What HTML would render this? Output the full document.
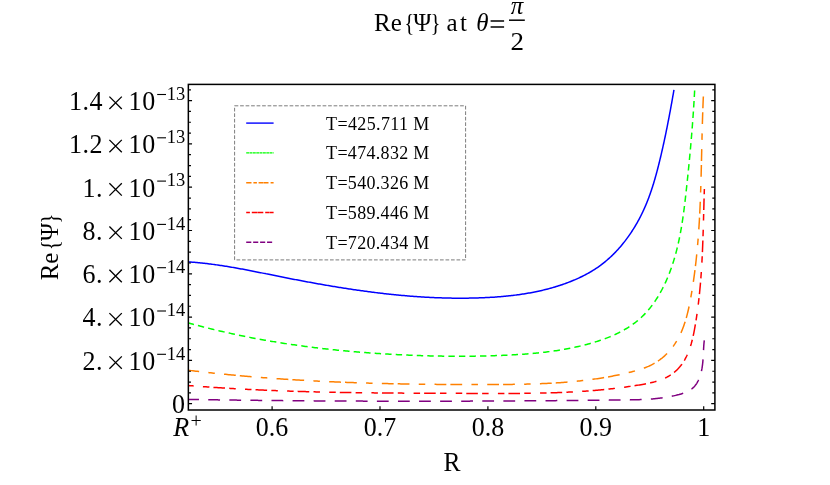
<!DOCTYPE html>
<html><head><meta charset="utf-8"><title>plot</title>
<style>html,body{margin:0;padding:0;background:#fff;}svg{display:block;will-change:transform;}text{font-family:"Liberation Serif",serif;fill:#000;}</style>
</head><body>
<svg width="830" height="485" viewBox="0 0 830 485">
<rect x="0" y="0" width="830" height="485" fill="#ffffff"/>
<clipPath id="c"><rect x="188.35" y="84.4" width="526.55" height="325.6"/></clipPath>
<g clip-path="url(#c)" fill="none" stroke-width="1.5" stroke-linecap="butt" stroke-linejoin="round">
<path d="M188.39,261.91 L189.62,261.99 L190.86,262.08 L192.10,262.17 L193.33,262.26 L194.56,262.36 L195.80,262.47 L197.03,262.58 L198.26,262.69 L199.49,262.81 L200.72,262.93 L201.95,263.06 L203.18,263.19 L204.41,263.32 L205.64,263.46 L206.86,263.60 L208.09,263.75 L209.32,263.90 L210.54,264.05 L211.76,264.21 L212.99,264.37 L214.21,264.54 L215.43,264.71 L216.65,264.88 L217.87,265.05 L219.10,265.23 L220.31,265.41 L221.53,265.59 L222.75,265.78 L223.97,265.97 L225.19,266.16 L226.41,266.36 L227.62,266.56 L228.84,266.76 L230.06,266.96 L231.27,267.17 L232.49,267.37 L233.70,267.58 L234.92,267.80 L236.13,268.01 L237.35,268.23 L238.56,268.45 L239.77,268.67 L240.98,268.89 L242.20,269.11 L243.41,269.34 L244.62,269.57 L245.83,269.80 L247.05,270.03 L248.26,270.26 L249.47,270.49 L250.68,270.73 L251.89,270.96 L253.10,271.20 L254.31,271.44 L255.52,271.68 L256.73,271.92 L257.94,272.16 L259.15,272.40 L260.36,272.64 L261.57,272.88 L262.78,273.12 L263.99,273.37 L265.20,273.61 L266.41,273.86 L267.62,274.10 L268.83,274.34 L270.05,274.59 L271.26,274.83 L272.47,275.08 L273.68,275.32 L274.89,275.56 L276.10,275.81 L277.31,276.05 L278.52,276.29 L279.73,276.53 L280.94,276.78 L282.15,277.02 L283.37,277.26 L284.58,277.50 L285.79,277.74 L287.00,277.97 L288.21,278.21 L289.43,278.45 L290.64,278.68 L291.85,278.92 L293.06,279.15 L294.28,279.39 L295.49,279.62 L296.70,279.85 L297.92,280.09 L299.13,280.32 L300.35,280.55 L301.56,280.78 L302.78,281.00 L303.99,281.23 L305.20,281.46 L306.42,281.68 L307.63,281.91 L308.85,282.13 L310.07,282.35 L311.28,282.58 L312.50,282.80 L313.71,283.02 L314.93,283.24 L316.15,283.46 L317.36,283.67 L318.58,283.89 L319.80,284.10 L321.01,284.32 L322.23,284.53 L323.45,284.74 L324.66,284.95 L325.88,285.16 L327.10,285.37 L328.32,285.58 L329.54,285.78 L330.75,285.99 L331.97,286.19 L333.19,286.40 L334.41,286.60 L335.63,286.80 L336.85,287.00 L338.07,287.19 L339.29,287.39 L340.51,287.59 L341.73,287.78 L342.95,287.97 L344.17,288.16 L345.39,288.35 L346.61,288.54 L347.83,288.73 L349.05,288.91 L350.27,289.10 L351.49,289.28 L352.71,289.46 L353.93,289.64 L355.16,289.82 L356.38,290.00 L357.60,290.17 L358.82,290.35 L360.05,290.52 L361.27,290.69 L362.49,290.86 L363.71,291.03 L364.94,291.20 L366.16,291.36 L367.38,291.52 L368.61,291.69 L369.83,291.85 L371.05,292.00 L372.28,292.16 L373.50,292.32 L374.73,292.47 L375.95,292.62 L377.18,292.77 L378.40,292.92 L379.63,293.07 L380.85,293.21 L382.08,293.35 L383.30,293.50 L384.53,293.64 L385.75,293.77 L386.98,293.91 L388.20,294.04 L389.43,294.18 L390.66,294.31 L391.88,294.43 L393.11,294.56 L394.34,294.68 L395.56,294.81 L396.79,294.93 L398.02,295.05 L399.25,295.16 L400.47,295.28 L401.70,295.39 L402.93,295.50 L404.16,295.61 L405.39,295.72 L406.62,295.82 L407.84,295.93 L409.07,296.03 L410.30,296.13 L411.53,296.22 L412.76,296.32 L413.99,296.41 L415.22,296.50 L416.45,296.59 L417.68,296.67 L418.91,296.76 L420.14,296.84 L421.37,296.92 L422.60,296.99 L423.83,297.07 L425.06,297.14 L426.29,297.21 L427.53,297.28 L428.76,297.34 L429.99,297.41 L431.22,297.47 L432.45,297.53 L433.68,297.58 L434.92,297.64 L436.15,297.69 L437.38,297.74 L438.61,297.78 L439.85,297.83 L441.08,297.87 L442.31,297.91 L443.55,297.94 L444.78,297.98 L446.01,298.01 L447.25,298.04 L448.48,298.07 L449.72,298.09 L450.95,298.11 L452.18,298.13 L453.42,298.15 L454.65,298.16 L455.89,298.17 L457.12,298.18 L458.36,298.19 L459.59,298.19 L460.83,298.19 L462.07,298.19 L463.30,298.18 L464.54,298.18 L465.77,298.17 L467.01,298.15 L468.25,298.14 L469.48,298.12 L470.72,298.10 L471.96,298.07 L473.19,298.05 L474.43,298.02 L475.67,297.98 L476.91,297.95 L478.14,297.91 L479.38,297.87 L480.62,297.83 L481.86,297.78 L483.10,297.73 L484.33,297.68 L485.57,297.62 L486.81,297.56 L488.05,297.50 L489.29,297.43 L490.52,297.36 L491.76,297.29 L493.00,297.21 L494.24,297.13 L495.47,297.04 L496.71,296.96 L497.95,296.86 L499.18,296.77 L500.42,296.67 L501.65,296.56 L502.89,296.46 L504.12,296.34 L505.35,296.23 L506.59,296.11 L507.82,295.98 L509.05,295.85 L510.28,295.72 L511.51,295.58 L512.74,295.43 L513.97,295.29 L515.19,295.13 L516.42,294.97 L517.65,294.81 L518.87,294.64 L520.09,294.47 L521.32,294.29 L522.54,294.11 L523.76,293.92 L524.98,293.72 L526.20,293.52 L527.41,293.32 L528.63,293.11 L529.84,292.89 L531.06,292.67 L532.27,292.44 L533.48,292.21 L534.69,291.97 L535.89,291.72 L537.10,291.47 L538.30,291.21 L539.50,290.95 L540.71,290.68 L541.91,290.40 L543.10,290.12 L544.30,289.83 L545.49,289.53 L546.68,289.23 L547.88,288.92 L549.06,288.61 L550.25,288.28 L551.43,287.95 L552.62,287.62 L553.80,287.28 L554.98,286.92 L556.15,286.57 L557.33,286.20 L558.50,285.83 L559.67,285.45 L560.84,285.06 L562.00,284.67 L563.17,284.27 L564.33,283.86 L565.49,283.44 L566.64,283.02 L567.80,282.58 L568.95,282.14 L570.10,281.70 L571.24,281.24 L572.39,280.77 L573.53,280.30 L574.66,279.82 L575.80,279.33 L576.93,278.83 L578.06,278.33 L579.18,277.81 L580.30,277.29 L581.42,276.75 L582.53,276.21 L583.63,275.65 L584.73,275.09 L585.83,274.52 L586.92,273.94 L588.00,273.34 L589.08,272.74 L590.15,272.13 L591.22,271.50 L592.27,270.87 L593.32,270.22 L594.37,269.56 L595.40,268.89 L596.43,268.21 L597.45,267.52 L598.46,266.82 L599.46,266.10 L600.46,265.38 L601.44,264.64 L602.42,263.89 L603.39,263.13 L604.35,262.36 L605.30,261.58 L606.25,260.79 L607.18,259.99 L608.11,259.18 L609.03,258.36 L609.94,257.53 L610.85,256.69 L611.74,255.84 L612.63,254.99 L613.51,254.12 L614.38,253.24 L615.24,252.36 L616.09,251.47 L616.94,250.56 L617.77,249.65 L618.60,248.74 L619.42,247.81 L620.24,246.88 L621.04,245.94 L621.84,244.99 L622.62,244.03 L623.40,243.07 L624.17,242.10 L624.94,241.13 L625.69,240.14 L626.44,239.15 L627.18,238.16 L627.91,237.16 L628.63,236.15 L629.34,235.13 L630.05,234.11 L630.74,233.09 L631.43,232.06 L632.11,231.02 L632.78,229.97 L633.45,228.93 L634.10,227.87 L634.75,226.81 L635.39,225.75 L636.02,224.68 L636.64,223.61 L637.26,222.53 L637.86,221.45 L638.46,220.36 L639.05,219.27 L639.63,218.17 L640.20,217.08 L640.76,215.97 L641.32,214.87 L641.87,213.76 L642.41,212.64 L642.94,211.52 L643.46,210.40 L643.97,209.28 L644.48,208.15 L644.98,207.02 L645.47,205.89 L645.95,204.76 L646.42,203.62 L646.89,202.48 L647.34,201.34 L647.79,200.19 L648.24,199.04 L648.67,197.89 L649.10,196.74 L649.53,195.58 L649.94,194.42 L650.35,193.26 L650.76,192.10 L651.15,190.94 L651.54,189.77 L651.93,188.60 L652.31,187.43 L652.68,186.26 L653.05,185.09 L653.42,183.91 L653.78,182.73 L654.13,181.55 L654.48,180.37 L654.82,179.19 L655.16,178.01 L655.50,176.82 L655.83,175.64 L656.16,174.45 L656.48,173.26 L656.80,172.07 L657.12,170.88 L657.43,169.69 L657.74,168.49 L658.05,167.30 L658.36,166.10 L658.66,164.91 L658.96,163.71 L659.25,162.51 L659.55,161.31 L659.84,160.11 L660.13,158.91 L660.42,157.71 L660.70,156.51 L660.99,155.31 L661.27,154.11 L661.55,152.90 L661.83,151.70 L662.10,150.50 L662.38,149.29 L662.65,148.09 L662.92,146.88 L663.19,145.68 L663.45,144.47 L663.72,143.26 L663.98,142.06 L664.24,140.85 L664.50,139.64 L664.76,138.43 L665.02,137.22 L665.27,136.01 L665.52,134.80 L665.78,133.59 L666.03,132.38 L666.27,131.17 L666.52,129.96 L666.76,128.75 L667.01,127.54 L667.25,126.33 L667.49,125.11 L667.73,123.90 L667.97,122.69 L668.20,121.48 L668.44,120.26 L668.67,119.05 L668.91,117.84 L669.14,116.62 L669.37,115.41 L669.60,114.20 L669.82,112.98 L670.05,111.77 L670.28,110.56 L670.50,109.34 L670.72,108.13 L670.95,106.91 L671.17,105.70 L671.39,104.49 L671.61,103.27 L671.82,102.06 L672.04,100.84 L672.26,99.63 L672.47,98.42 L672.69,97.20 L672.90,95.99 L673.11,94.77 L673.33,93.56 L673.54,92.35 L673.75,91.13 L673.96,89.92" stroke="#0000ff"/>
<path d="M188.34,322.93 L189.69,323.30 L191.05,323.67 L192.40,324.04 L193.76,324.41 L195.11,324.78 L196.47,325.14 L197.82,325.50 L199.18,325.85 L200.54,326.21 L201.90,326.56 L203.26,326.91 L204.62,327.26 L205.98,327.60 L207.34,327.95 L208.70,328.28 L210.07,328.62 L211.43,328.96 L212.79,329.29 L214.16,329.62 L215.52,329.95 L216.89,330.27 L218.26,330.60 L219.62,330.92 L220.99,331.23 L222.36,331.55 L223.73,331.86 L225.10,332.17 L226.47,332.48 L227.84,332.79 L229.21,333.09 L230.58,333.39 L231.95,333.69 L233.32,333.99 L234.70,334.29 L236.07,334.58 L237.44,334.87 L238.82,335.16 L240.19,335.44 L241.57,335.72 L242.95,336.00 L244.32,336.28 L245.70,336.56 L247.08,336.83 L248.46,337.11 L249.84,337.37 L251.21,337.64 L252.59,337.91 L253.97,338.17 L255.35,338.43 L256.74,338.69 L258.12,338.95 L259.50,339.20 L260.88,339.45 L262.26,339.70 L263.65,339.95 L265.03,340.19 L266.42,340.44 L267.80,340.68 L269.19,340.92 L270.57,341.15 L271.96,341.39 L273.34,341.62 L274.73,341.85 L276.12,342.08 L277.50,342.31 L278.89,342.53 L280.28,342.75 L281.67,342.97 L283.06,343.19 L284.45,343.40 L285.84,343.62 L287.23,343.83 L288.62,344.04 L290.01,344.25 L291.40,344.45 L292.79,344.66 L294.18,344.86 L295.57,345.06 L296.97,345.25 L298.36,345.45 L299.75,345.64 L301.15,345.83 L302.54,346.02 L303.93,346.21 L305.33,346.40 L306.72,346.58 L308.12,346.76 L309.51,346.94 L310.91,347.12 L312.30,347.30 L313.70,347.47 L315.10,347.64 L316.49,347.81 L317.89,347.98 L319.29,348.15 L320.69,348.31 L322.08,348.47 L323.48,348.63 L324.88,348.79 L326.28,348.95 L327.68,349.10 L329.07,349.26 L330.47,349.41 L331.87,349.56 L333.27,349.71 L334.67,349.85 L336.07,350.00 L337.47,350.14 L338.87,350.28 L340.27,350.42 L341.67,350.56 L343.07,350.69 L344.47,350.82 L345.88,350.96 L347.28,351.09 L348.68,351.21 L350.08,351.34 L351.48,351.46 L352.88,351.59 L354.29,351.71 L355.69,351.83 L357.09,351.95 L358.49,352.06 L359.90,352.18 L361.30,352.29 L362.70,352.40 L364.10,352.51 L365.51,352.62 L366.91,352.72 L368.31,352.83 L369.72,352.93 L371.12,353.03 L372.52,353.13 L373.93,353.23 L375.33,353.32 L376.74,353.42 L378.14,353.51 L379.54,353.60 L380.95,353.69 L382.35,353.78 L383.75,353.87 L385.16,353.95 L386.56,354.04 L387.97,354.12 L389.37,354.20 L390.78,354.28 L392.18,354.36 L393.58,354.43 L394.99,354.51 L396.39,354.58 L397.80,354.65 L399.20,354.72 L400.61,354.79 L402.01,354.86 L403.41,354.92 L404.82,354.98 L406.22,355.05 L407.63,355.11 L409.03,355.17 L410.43,355.23 L411.84,355.28 L413.24,355.34 L414.65,355.39 L416.05,355.44 L417.45,355.49 L418.86,355.54 L420.26,355.59 L421.67,355.63 L423.07,355.68 L424.47,355.72 L425.88,355.76 L427.28,355.80 L428.68,355.84 L430.09,355.88 L431.49,355.91 L432.90,355.94 L434.30,355.97 L435.70,356.00 L437.11,356.03 L438.51,356.06 L439.91,356.08 L441.32,356.11 L442.72,356.13 L444.12,356.15 L445.53,356.17 L446.93,356.18 L448.33,356.20 L449.74,356.21 L451.14,356.22 L452.54,356.23 L453.95,356.24 L455.35,356.24 L456.75,356.25 L458.16,356.25 L459.56,356.25 L460.96,356.25 L462.37,356.24 L463.77,356.24 L465.17,356.23 L466.58,356.22 L467.98,356.21 L469.38,356.20 L470.79,356.19 L472.19,356.17 L473.59,356.15 L474.99,356.13 L476.40,356.11 L477.80,356.09 L479.20,356.06 L480.61,356.03 L482.01,356.01 L483.41,355.97 L484.81,355.94 L486.22,355.91 L487.62,355.87 L489.02,355.83 L490.43,355.79 L491.83,355.74 L493.23,355.70 L494.63,355.65 L496.04,355.60 L497.44,355.55 L498.84,355.50 L500.24,355.44 L501.65,355.39 L503.05,355.33 L504.45,355.26 L505.85,355.20 L507.26,355.13 L508.66,355.07 L510.06,355.00 L511.46,354.92 L512.87,354.85 L514.27,354.77 L515.67,354.69 L517.07,354.60 L518.47,354.51 L519.87,354.42 L521.28,354.33 L522.68,354.23 L524.08,354.13 L525.48,354.03 L526.88,353.92 L528.28,353.81 L529.68,353.69 L531.08,353.58 L532.48,353.45 L533.88,353.32 L535.28,353.19 L536.68,353.06 L538.08,352.92 L539.47,352.77 L540.87,352.62 L542.27,352.47 L543.67,352.31 L545.06,352.14 L546.46,351.97 L547.86,351.80 L549.25,351.62 L550.65,351.43 L552.04,351.24 L553.44,351.05 L554.83,350.85 L556.22,350.64 L557.62,350.42 L559.01,350.20 L560.40,349.98 L561.79,349.75 L563.18,349.51 L564.57,349.26 L565.96,349.01 L567.35,348.76 L568.74,348.49 L570.13,348.22 L571.52,347.94 L572.90,347.66 L574.29,347.37 L575.67,347.07 L577.06,346.76 L578.44,346.45 L579.83,346.13 L581.21,345.80 L582.59,345.46 L583.97,345.12 L585.35,344.76 L586.73,344.40 L588.11,344.04 L589.49,343.66 L590.87,343.27 L592.24,342.88 L593.61,342.47 L594.98,342.06 L596.34,341.64 L597.70,341.21 L599.06,340.76 L600.41,340.31 L601.76,339.85 L603.10,339.37 L604.44,338.89 L605.77,338.39 L607.10,337.89 L608.42,337.37 L609.73,336.84 L611.04,336.29 L612.34,335.74 L613.63,335.17 L614.91,334.59 L616.19,334.00 L617.45,333.39 L618.71,332.78 L619.96,332.14 L621.20,331.50 L622.43,330.84 L623.64,330.16 L624.85,329.47 L626.05,328.77 L627.23,328.05 L628.41,327.32 L629.57,326.57 L630.72,325.81 L631.85,325.03 L632.97,324.23 L634.08,323.42 L635.18,322.59 L636.26,321.75 L637.33,320.89 L638.38,320.01 L639.42,319.11 L640.44,318.20 L641.45,317.27 L642.44,316.32 L643.42,315.36 L644.38,314.38 L645.33,313.39 L646.26,312.38 L647.18,311.36 L648.08,310.32 L648.97,309.27 L649.85,308.20 L650.71,307.12 L651.56,306.02 L652.39,304.92 L653.21,303.80 L654.02,302.67 L654.81,301.53 L655.59,300.37 L656.35,299.20 L657.11,298.03 L657.85,296.84 L658.57,295.64 L659.29,294.43 L659.99,293.22 L660.68,291.99 L661.36,290.76 L662.02,289.51 L662.67,288.26 L663.31,287.00 L663.94,285.73 L664.56,284.46 L665.16,283.17 L665.75,281.89 L666.33,280.59 L666.90,279.29 L667.46,277.98 L668.01,276.67 L668.54,275.35 L669.07,274.03 L669.58,272.71 L670.08,271.38 L670.57,270.04 L671.05,268.71 L671.53,267.37 L671.99,266.03 L672.44,264.68 L672.88,263.33 L673.31,261.98 L673.73,260.63 L674.14,259.28 L674.54,257.92 L674.93,256.56 L675.32,255.20 L675.69,253.84 L676.06,252.48 L676.41,251.11 L676.76,249.74 L677.10,248.37 L677.44,247.00 L677.76,245.62 L678.08,244.25 L678.39,242.87 L678.69,241.49 L678.99,240.11 L679.28,238.73 L679.56,237.35 L679.83,235.96 L680.10,234.58 L680.36,233.19 L680.62,231.80 L680.87,230.41 L681.11,229.02 L681.35,227.63 L681.59,226.24 L681.82,224.85 L682.04,223.45 L682.26,222.06 L682.47,220.66 L682.68,219.27 L682.88,217.87 L683.09,216.47 L683.28,215.07 L683.47,213.67 L683.66,212.28 L683.85,210.88 L684.03,209.48 L684.21,208.08 L684.38,206.68 L684.56,205.28 L684.73,203.88 L684.90,202.48 L685.06,201.08 L685.22,199.68 L685.39,198.28 L685.54,196.88 L685.70,195.48 L685.86,194.08 L686.01,192.68 L686.17,191.28 L686.32,189.88 L686.47,188.48 L686.62,187.09 L686.77,185.69 L686.92,184.29 L687.07,182.90 L687.22,181.50 L687.37,180.11 L687.51,178.71 L687.66,177.32 L687.80,175.92 L687.95,174.53 L688.09,173.13 L688.23,171.74 L688.37,170.35 L688.51,168.95 L688.65,167.56 L688.79,166.17 L688.93,164.78 L689.07,163.38 L689.20,161.99 L689.34,160.60 L689.47,159.21 L689.60,157.81 L689.73,156.42 L689.87,155.03 L689.99,153.64 L690.12,152.25 L690.25,150.85 L690.38,149.46 L690.50,148.07 L690.63,146.67 L690.75,145.28 L690.87,143.89 L690.99,142.49 L691.11,141.10 L691.23,139.71 L691.35,138.31 L691.47,136.92 L691.58,135.52 L691.70,134.13 L691.81,132.73 L691.93,131.33 L692.04,129.94 L692.15,128.54 L692.25,127.14 L692.36,125.74 L692.47,124.34 L692.57,122.94 L692.68,121.54 L692.78,120.14 L692.88,118.74 L692.98,117.34 L693.08,115.94 L693.18,114.54 L693.28,113.13 L693.37,111.73 L693.46,110.32 L693.56,108.92 L693.65,107.51 L693.74,106.10 L693.83,104.69 L693.91,103.28 L694.00,101.87 L694.09,100.46 L694.17,99.05 L694.25,97.63 L694.33,96.22 L694.41,94.80 L694.49,93.39 L694.56,91.97 L694.64,90.55" stroke="#00ff00" stroke-dasharray="6.4 4.14" stroke-dashoffset="0.6"/>
<path d="M188.36,370.26 L189.86,370.44 L191.35,370.62 L192.85,370.80 L194.34,370.97 L195.84,371.15 L197.33,371.32 L198.83,371.50 L200.32,371.67 L201.82,371.84 L203.31,372.01 L204.81,372.17 L206.30,372.34 L207.80,372.50 L209.30,372.66 L210.79,372.83 L212.29,372.99 L213.78,373.14 L215.28,373.30 L216.77,373.46 L218.27,373.61 L219.76,373.77 L221.26,373.92 L222.76,374.07 L224.25,374.22 L225.75,374.36 L227.24,374.51 L228.74,374.66 L230.23,374.80 L231.73,374.94 L233.23,375.08 L234.72,375.22 L236.22,375.36 L237.71,375.50 L239.21,375.63 L240.71,375.77 L242.20,375.90 L243.70,376.03 L245.19,376.17 L246.69,376.29 L248.19,376.42 L249.68,376.55 L251.18,376.68 L252.67,376.80 L254.17,376.92 L255.67,377.05 L257.16,377.17 L258.66,377.29 L260.15,377.40 L261.65,377.52 L263.15,377.64 L264.64,377.75 L266.14,377.87 L267.64,377.98 L269.13,378.09 L270.63,378.20 L272.12,378.31 L273.62,378.42 L275.12,378.52 L276.61,378.63 L278.11,378.73 L279.61,378.84 L281.10,378.94 L282.60,379.04 L284.10,379.14 L285.59,379.24 L287.09,379.33 L288.59,379.43 L290.08,379.53 L291.58,379.62 L293.08,379.71 L294.57,379.80 L296.07,379.90 L297.57,379.99 L299.07,380.07 L300.56,380.16 L302.06,380.25 L303.56,380.33 L305.05,380.42 L306.55,380.50 L308.05,380.58 L309.55,380.67 L311.04,380.75 L312.54,380.83 L314.04,380.90 L315.53,380.98 L317.03,381.06 L318.53,381.13 L320.03,381.21 L321.52,381.28 L323.02,381.35 L324.52,381.42 L326.02,381.49 L327.51,381.56 L329.01,381.63 L330.51,381.70 L332.01,381.77 L333.51,381.83 L335.00,381.90 L336.50,381.96 L338.00,382.02 L339.50,382.08 L341.00,382.14 L342.49,382.20 L343.99,382.26 L345.49,382.32 L346.99,382.38 L348.49,382.44 L349.98,382.49 L351.48,382.55 L352.98,382.60 L354.48,382.65 L355.98,382.70 L357.48,382.75 L358.98,382.81 L360.47,382.85 L361.97,382.90 L363.47,382.95 L364.97,383.00 L366.47,383.04 L367.97,383.09 L369.47,383.13 L370.97,383.18 L372.46,383.22 L373.96,383.26 L375.46,383.30 L376.96,383.34 L378.46,383.38 L379.96,383.42 L381.46,383.46 L382.96,383.50 L384.46,383.53 L385.96,383.57 L387.46,383.60 L388.96,383.64 L390.46,383.67 L391.95,383.71 L393.45,383.74 L394.95,383.77 L396.45,383.80 L397.95,383.83 L399.45,383.86 L400.95,383.89 L402.45,383.92 L403.95,383.94 L405.45,383.97 L406.95,383.99 L408.45,384.02 L409.95,384.04 L411.45,384.07 L412.95,384.09 L414.45,384.11 L415.96,384.14 L417.46,384.16 L418.96,384.18 L420.46,384.20 L421.96,384.22 L423.46,384.23 L424.96,384.25 L426.46,384.27 L427.96,384.29 L429.46,384.30 L430.96,384.32 L432.46,384.33 L433.96,384.35 L435.47,384.36 L436.97,384.38 L438.47,384.39 L439.97,384.40 L441.47,384.41 L442.97,384.42 L444.47,384.43 L445.98,384.44 L447.48,384.45 L448.98,384.46 L450.48,384.47 L451.98,384.48 L453.48,384.49 L454.99,384.49 L456.49,384.50 L457.99,384.50 L459.49,384.51 L461.00,384.52 L462.50,384.52 L464.00,384.52 L465.50,384.53 L467.00,384.53 L468.51,384.53 L470.01,384.53 L471.51,384.54 L473.02,384.54 L474.52,384.54 L476.02,384.54 L477.52,384.54 L479.03,384.54 L480.53,384.54 L482.03,384.54 L483.54,384.53 L485.04,384.53 L486.54,384.53 L488.05,384.53 L489.55,384.52 L491.05,384.52 L492.56,384.52 L494.06,384.51 L495.56,384.51 L497.07,384.50 L498.57,384.49 L500.08,384.48 L501.58,384.48 L503.08,384.47 L504.59,384.46 L506.09,384.44 L507.59,384.43 L509.10,384.42 L510.60,384.40 L512.10,384.38 L513.61,384.36 L515.11,384.34 L516.61,384.32 L518.12,384.30 L519.62,384.27 L521.12,384.24 L522.63,384.21 L524.13,384.18 L525.63,384.15 L527.13,384.11 L528.63,384.07 L530.14,384.03 L531.64,383.99 L533.14,383.95 L534.64,383.90 L536.14,383.85 L537.64,383.80 L539.14,383.74 L540.64,383.68 L542.14,383.62 L543.64,383.56 L545.14,383.49 L546.64,383.42 L548.14,383.34 L549.64,383.27 L551.14,383.19 L552.63,383.10 L554.13,383.02 L555.63,382.93 L557.13,382.83 L558.62,382.73 L560.12,382.63 L561.61,382.53 L563.11,382.42 L564.60,382.30 L566.10,382.19 L567.59,382.06 L569.09,381.94 L570.58,381.81 L572.07,381.67 L573.56,381.53 L575.06,381.39 L576.55,381.24 L578.04,381.09 L579.53,380.93 L581.02,380.77 L582.51,380.61 L584.00,380.43 L585.48,380.26 L586.97,380.08 L588.46,379.89 L589.95,379.70 L591.43,379.50 L592.92,379.30 L594.40,379.09 L595.89,378.88 L597.37,378.66 L598.85,378.43 L600.34,378.20 L601.82,377.96 L603.30,377.72 L604.78,377.47 L606.26,377.22 L607.74,376.96 L609.22,376.69 L610.69,376.42 L612.17,376.14 L613.65,375.86 L615.12,375.57 L616.60,375.27 L618.07,374.96 L619.54,374.65 L621.02,374.34 L622.49,374.01 L623.96,373.68 L625.43,373.34 L626.90,373.00 L628.37,372.64 L629.83,372.28 L631.30,371.92 L632.77,371.54 L634.23,371.15 L635.68,370.75 L637.13,370.34 L638.58,369.91 L640.02,369.46 L641.45,368.99 L642.87,368.50 L644.27,367.99 L645.67,367.46 L647.06,366.90 L648.43,366.32 L649.79,365.70 L651.13,365.06 L652.46,364.39 L653.76,363.68 L655.05,362.93 L656.32,362.16 L657.57,361.35 L658.80,360.50 L660.01,359.63 L661.20,358.72 L662.36,357.79 L663.50,356.83 L664.62,355.84 L665.72,354.82 L666.78,353.78 L667.83,352.72 L668.84,351.63 L669.83,350.52 L670.80,349.38 L671.73,348.23 L672.64,347.06 L673.52,345.87 L674.37,344.66 L675.19,343.44 L675.98,342.20 L676.75,340.94 L677.49,339.67 L678.21,338.38 L678.90,337.08 L679.57,335.76 L680.21,334.43 L680.83,333.09 L681.43,331.73 L682.01,330.36 L682.57,328.99 L683.11,327.59 L683.62,326.19 L684.12,324.78 L684.61,323.36 L685.07,321.93 L685.52,320.49 L685.95,319.05 L686.37,317.59 L686.77,316.13 L687.16,314.66 L687.53,313.19 L687.89,311.71 L688.24,310.23 L688.58,308.74 L688.91,307.25 L689.22,305.75 L689.53,304.25 L689.83,302.75 L690.12,301.24 L690.40,299.74 L690.68,298.23 L690.95,296.73 L691.21,295.22 L691.47,293.71 L691.73,292.21 L691.98,290.70 L692.22,289.20 L692.46,287.70 L692.70,286.19 L692.93,284.69 L693.16,283.19 L693.38,281.69 L693.60,280.18 L693.81,278.68 L694.02,277.18 L694.23,275.68 L694.43,274.19 L694.63,272.69 L694.82,271.19 L695.01,269.69 L695.19,268.19 L695.38,266.70 L695.55,265.20 L695.73,263.71 L695.90,262.21 L696.07,260.71 L696.23,259.22 L696.39,257.73 L696.54,256.23 L696.70,254.74 L696.85,253.24 L696.99,251.75 L697.13,250.26 L697.27,248.77 L697.41,247.27 L697.54,245.78 L697.67,244.29 L697.80,242.80 L697.92,241.31 L698.04,239.82 L698.16,238.32 L698.27,236.83 L698.39,235.34 L698.49,233.85 L698.60,232.36 L698.70,230.87 L698.81,229.38 L698.90,227.89 L699.00,226.40 L699.09,224.91 L699.18,223.42 L699.27,221.93 L699.36,220.45 L699.44,218.96 L699.53,217.47 L699.60,215.98 L699.68,214.49 L699.76,213.00 L699.83,211.51 L699.90,210.02 L699.97,208.53 L700.04,207.04 L700.11,205.55 L700.17,204.06 L700.23,202.58 L700.29,201.09 L700.35,199.60 L700.41,198.11 L700.47,196.62 L700.52,195.13 L700.57,193.64 L700.62,192.15 L700.67,190.66 L700.72,189.17 L700.77,187.68 L700.82,186.18 L700.86,184.69 L700.91,183.20 L700.95,181.71 L700.99,180.22 L701.04,178.73 L701.08,177.24 L701.12,175.74 L701.16,174.25 L701.19,172.76 L701.23,171.26 L701.27,169.77 L701.31,168.28 L701.34,166.78 L701.38,165.29 L701.41,163.79 L701.45,162.30 L701.48,160.80 L701.52,159.30 L701.55,157.81 L701.58,156.31 L701.62,154.81 L701.65,153.32 L701.69,151.82 L701.72,150.32 L701.75,148.82 L701.79,147.32 L701.82,145.82 L701.85,144.32 L701.89,142.82 L701.92,141.31 L701.96,139.81 L702.00,138.31 L702.03,136.81 L702.07,135.30 L702.11,133.80 L702.14,132.29 L702.18,130.79 L702.22,129.28 L702.26,127.77 L702.30,126.26 L702.35,124.76 L702.39,123.25 L702.43,121.74 L702.48,120.23 L702.52,118.72 L702.57,117.20 L702.62,115.69 L702.67,114.18 L702.72,112.66 L702.77,111.15 L702.82,109.63 L702.88,108.12 L702.94,106.60 L702.99,105.08 L703.05,103.56 L703.11,102.04 L703.18,100.52 L703.24,99.00 L703.31,97.48 L703.38,95.96" stroke="#ff8000" stroke-dasharray="11.8 9.28 6.5 9.28 11.8 4.04" stroke-dashoffset="0.95"/>
<path d="M188.43,385.55 L189.78,385.66 L191.13,385.77 L192.49,385.87 L193.84,385.98 L195.20,386.08 L196.55,386.18 L197.91,386.28 L199.26,386.39 L200.62,386.49 L201.97,386.58 L203.33,386.68 L204.68,386.78 L206.04,386.87 L207.39,386.97 L208.75,387.06 L210.10,387.16 L211.46,387.25 L212.81,387.34 L214.17,387.43 L215.52,387.52 L216.88,387.61 L218.24,387.69 L219.59,387.78 L220.95,387.87 L222.31,387.95 L223.66,388.03 L225.02,388.12 L226.37,388.20 L227.73,388.28 L229.09,388.36 L230.44,388.44 L231.80,388.52 L233.16,388.60 L234.52,388.67 L235.87,388.75 L237.23,388.82 L238.59,388.90 L239.95,388.97 L241.30,389.04 L242.66,389.11 L244.02,389.18 L245.38,389.25 L246.73,389.32 L248.09,389.39 L249.45,389.46 L250.81,389.53 L252.17,389.59 L253.52,389.66 L254.88,389.72 L256.24,389.78 L257.60,389.85 L258.96,389.91 L260.32,389.97 L261.67,390.03 L263.03,390.09 L264.39,390.15 L265.75,390.21 L267.11,390.26 L268.47,390.32 L269.83,390.38 L271.19,390.43 L272.55,390.49 L273.90,390.54 L275.26,390.59 L276.62,390.64 L277.98,390.70 L279.34,390.75 L280.70,390.80 L282.06,390.85 L283.42,390.90 L284.78,390.94 L286.14,390.99 L287.50,391.04 L288.86,391.08 L290.22,391.13 L291.58,391.17 L292.94,391.22 L294.30,391.26 L295.66,391.30 L297.02,391.35 L298.38,391.39 L299.74,391.43 L301.10,391.47 L302.46,391.51 L303.82,391.55 L305.18,391.59 L306.54,391.63 L307.90,391.66 L309.26,391.70 L310.62,391.74 L311.98,391.77 L313.34,391.81 L314.70,391.84 L316.06,391.88 L317.42,391.91 L318.78,391.94 L320.14,391.97 L321.50,392.01 L322.87,392.04 L324.23,392.07 L325.59,392.10 L326.95,392.13 L328.31,392.16 L329.67,392.19 L331.03,392.21 L332.39,392.24 L333.75,392.27 L335.11,392.30 L336.47,392.32 L337.83,392.35 L339.19,392.37 L340.56,392.40 L341.92,392.42 L343.28,392.45 L344.64,392.47 L346.00,392.49 L347.36,392.52 L348.72,392.54 L350.08,392.56 L351.44,392.58 L352.80,392.60 L354.17,392.62 L355.53,392.64 L356.89,392.66 L358.25,392.68 L359.61,392.70 L360.97,392.72 L362.33,392.74 L363.69,392.75 L365.05,392.77 L366.42,392.79 L367.78,392.81 L369.14,392.82 L370.50,392.84 L371.86,392.85 L373.22,392.87 L374.58,392.88 L375.94,392.90 L377.30,392.91 L378.66,392.93 L380.03,392.94 L381.39,392.95 L382.75,392.97 L384.11,392.98 L385.47,392.99 L386.83,393.00 L388.19,393.01 L389.55,393.03 L390.91,393.04 L392.27,393.05 L393.63,393.06 L395.00,393.07 L396.36,393.08 L397.72,393.09 L399.08,393.10 L400.44,393.11 L401.80,393.12 L403.16,393.13 L404.52,393.14 L405.88,393.14 L407.24,393.15 L408.60,393.16 L409.96,393.17 L411.32,393.18 L412.68,393.18 L414.04,393.19 L415.40,393.20 L416.76,393.21 L418.13,393.21 L419.49,393.22 L420.85,393.23 L422.21,393.23 L423.57,393.24 L424.93,393.24 L426.29,393.25 L427.65,393.26 L429.01,393.26 L430.37,393.27 L431.73,393.27 L433.09,393.28 L434.45,393.28 L435.81,393.29 L437.17,393.29 L438.53,393.30 L439.89,393.30 L441.24,393.31 L442.60,393.31 L443.96,393.32 L445.32,393.32 L446.68,393.33 L448.04,393.33 L449.40,393.34 L450.76,393.34 L452.12,393.34 L453.48,393.35 L454.84,393.35 L456.20,393.36 L457.56,393.36 L458.91,393.36 L460.27,393.37 L461.63,393.37 L462.99,393.38 L464.35,393.38 L465.71,393.38 L467.07,393.39 L468.43,393.39 L469.78,393.40 L471.14,393.40 L472.50,393.41 L473.86,393.41 L475.22,393.41 L476.57,393.42 L477.93,393.42 L479.29,393.43 L480.65,393.43 L482.01,393.44 L483.36,393.44 L484.72,393.44 L486.08,393.45 L487.44,393.45 L488.79,393.46 L490.15,393.46 L491.51,393.46 L492.87,393.47 L494.22,393.47 L495.58,393.47 L496.94,393.47 L498.29,393.47 L499.65,393.47 L501.01,393.47 L502.37,393.47 L503.72,393.47 L505.08,393.47 L506.44,393.47 L507.79,393.47 L509.15,393.46 L510.51,393.46 L511.86,393.45 L513.22,393.45 L514.58,393.44 L515.94,393.43 L517.29,393.43 L518.65,393.42 L520.01,393.41 L521.36,393.39 L522.72,393.38 L524.08,393.37 L525.43,393.35 L526.79,393.34 L528.15,393.32 L529.50,393.30 L530.86,393.29 L532.22,393.27 L533.57,393.24 L534.93,393.22 L536.29,393.20 L537.65,393.17 L539.00,393.14 L540.36,393.11 L541.72,393.08 L543.07,393.05 L544.43,393.02 L545.79,392.99 L547.15,392.95 L548.50,392.91 L549.86,392.87 L551.22,392.83 L552.58,392.79 L553.93,392.74 L555.29,392.70 L556.65,392.65 L558.01,392.60 L559.36,392.54 L560.72,392.49 L562.08,392.43 L563.44,392.37 L564.80,392.31 L566.15,392.25 L567.51,392.19 L568.87,392.12 L570.23,392.05 L571.59,391.98 L572.95,391.91 L574.31,391.83 L575.66,391.75 L577.02,391.67 L578.38,391.59 L579.74,391.51 L581.10,391.42 L582.46,391.33 L583.82,391.24 L585.18,391.14 L586.54,391.05 L587.90,390.95 L589.26,390.84 L590.62,390.74 L591.98,390.63 L593.34,390.52 L594.70,390.40 L596.06,390.29 L597.42,390.17 L598.78,390.05 L600.14,389.92 L601.50,389.79 L602.86,389.66 L604.23,389.53 L605.59,389.39 L606.95,389.25 L608.31,389.11 L609.67,388.96 L611.03,388.82 L612.40,388.66 L613.76,388.51 L615.12,388.35 L616.48,388.19 L617.85,388.02 L619.21,387.85 L620.57,387.68 L621.94,387.50 L623.30,387.33 L624.66,387.14 L626.03,386.96 L627.39,386.77 L628.76,386.57 L630.12,386.38 L631.48,386.18 L632.85,385.97 L634.21,385.77 L635.58,385.55 L636.95,385.34 L638.31,385.12 L639.68,384.90 L641.04,384.67 L642.41,384.44 L643.77,384.20 L645.13,383.95 L646.49,383.69 L647.84,383.42 L649.19,383.14 L650.53,382.85 L651.86,382.54 L653.18,382.22 L654.50,381.87 L655.80,381.51 L657.09,381.13 L658.37,380.72 L659.64,380.29 L660.89,379.84 L662.13,379.36 L663.35,378.85 L664.55,378.31 L665.74,377.75 L666.91,377.15 L668.06,376.52 L669.18,375.85 L670.29,375.16 L671.37,374.43 L672.43,373.68 L673.47,372.89 L674.48,372.07 L675.47,371.22 L676.44,370.35 L677.38,369.44 L678.29,368.51 L679.17,367.55 L680.03,366.56 L680.86,365.54 L681.66,364.50 L682.42,363.43 L683.16,362.33 L683.88,361.21 L684.56,360.07 L685.21,358.90 L685.84,357.72 L686.45,356.52 L687.03,355.29 L687.58,354.05 L688.11,352.80 L688.62,351.53 L689.11,350.24 L689.58,348.95 L690.03,347.64 L690.45,346.32 L690.86,344.99 L691.26,343.66 L691.63,342.31 L691.99,340.97 L692.33,339.61 L692.66,338.26 L692.97,336.90 L693.28,335.54 L693.57,334.17 L693.85,332.81 L694.12,331.44 L694.38,330.07 L694.63,328.70 L694.87,327.33 L695.11,325.97 L695.34,324.60 L695.57,323.23 L695.79,321.86 L696.01,320.50 L696.23,319.13 L696.44,317.77 L696.64,316.41 L696.84,315.04 L697.04,313.68 L697.23,312.32 L697.42,310.96 L697.60,309.60 L697.78,308.24 L697.96,306.88 L698.13,305.53 L698.30,304.17 L698.47,302.81 L698.63,301.46 L698.78,300.10 L698.94,298.75 L699.09,297.40 L699.23,296.04 L699.38,294.69 L699.51,293.34 L699.65,291.99 L699.78,290.63 L699.91,289.28 L700.04,287.93 L700.16,286.58 L700.28,285.23 L700.40,283.88 L700.51,282.53 L700.62,281.18 L700.73,279.83 L700.84,278.49 L700.94,277.14 L701.04,275.79 L701.13,274.44 L701.23,273.09 L701.32,271.75 L701.41,270.40 L701.50,269.05 L701.58,267.70 L701.66,266.35 L701.74,265.01 L701.82,263.66 L701.90,262.31 L701.97,260.96 L702.04,259.62 L702.11,258.27 L702.18,256.92 L702.25,255.57 L702.31,254.22 L702.37,252.88 L702.43,251.53 L702.49,250.18 L702.55,248.83 L702.60,247.48 L702.66,246.13 L702.71,244.78 L702.76,243.43 L702.81,242.08 L702.86,240.73 L702.91,239.38 L702.96,238.03 L703.00,236.68 L703.05,235.32 L703.09,233.97 L703.13,232.62 L703.18,231.26 L703.22,229.91 L703.26,228.55 L703.30,227.20 L703.34,225.84 L703.38,224.48 L703.41,223.13 L703.45,221.77 L703.49,220.41 L703.53,219.05 L703.56,217.69 L703.60,216.33 L703.64,214.97 L703.67,213.61 L703.71,212.24 L703.74,210.88 L703.78,209.51 L703.82,208.15 L703.85,206.78 L703.89,205.41 L703.93,204.04 L703.96,202.67 L704.00,201.30 L704.04,199.93 L704.08,198.56 L704.12,197.19 L704.16,195.81 L704.20,194.44 L704.24,193.06 L704.28,191.68 L704.32,190.30 L704.37,188.92" stroke="#ff0000" stroke-dasharray="6.5 9.28 6.5 4.04 11.6 4.24" stroke-dashoffset="1.25"/>
<path d="M188.37,399.43 L189.49,399.45 L190.60,399.47 L191.72,399.48 L192.84,399.50 L193.96,399.52 L195.07,399.54 L196.19,399.55 L197.31,399.57 L198.42,399.59 L199.54,399.61 L200.66,399.62 L201.78,399.64 L202.89,399.66 L204.01,399.67 L205.13,399.69 L206.24,399.71 L207.36,399.72 L208.48,399.74 L209.59,399.76 L210.71,399.77 L211.83,399.79 L212.95,399.81 L214.06,399.82 L215.18,399.84 L216.30,399.85 L217.41,399.87 L218.53,399.89 L219.65,399.90 L220.76,399.92 L221.88,399.93 L223.00,399.95 L224.11,399.96 L225.23,399.98 L226.35,399.99 L227.46,400.01 L228.58,400.02 L229.69,400.04 L230.81,400.05 L231.93,400.07 L233.04,400.08 L234.16,400.09 L235.28,400.11 L236.39,400.12 L237.51,400.14 L238.63,400.15 L239.74,400.16 L240.86,400.18 L241.97,400.19 L243.09,400.20 L244.21,400.22 L245.32,400.23 L246.44,400.24 L247.56,400.26 L248.67,400.27 L249.79,400.28 L250.90,400.30 L252.02,400.31 L253.14,400.32 L254.25,400.33 L255.37,400.35 L256.48,400.36 L257.60,400.37 L258.72,400.38 L259.83,400.40 L260.95,400.41 L262.06,400.42 L263.18,400.43 L264.30,400.44 L265.41,400.46 L266.53,400.47 L267.64,400.48 L268.76,400.49 L269.88,400.50 L270.99,400.51 L272.11,400.52 L273.22,400.53 L274.34,400.54 L275.46,400.56 L276.57,400.57 L277.69,400.58 L278.80,400.59 L279.92,400.60 L281.03,400.61 L282.15,400.62 L283.27,400.63 L284.38,400.64 L285.50,400.65 L286.61,400.66 L287.73,400.67 L288.84,400.68 L289.96,400.69 L291.07,400.70 L292.19,400.71 L293.31,400.72 L294.42,400.73 L295.54,400.73 L296.65,400.74 L297.77,400.75 L298.88,400.76 L300.00,400.77 L301.11,400.78 L302.23,400.79 L303.35,400.80 L304.46,400.80 L305.58,400.81 L306.69,400.82 L307.81,400.83 L308.92,400.84 L310.04,400.85 L311.15,400.85 L312.27,400.86 L313.38,400.87 L314.50,400.88 L315.61,400.88 L316.73,400.89 L317.85,400.90 L318.96,400.91 L320.08,400.91 L321.19,400.92 L322.31,400.93 L323.42,400.93 L324.54,400.94 L325.65,400.95 L326.77,400.96 L327.88,400.96 L329.00,400.97 L330.11,400.97 L331.23,400.98 L332.34,400.99 L333.46,400.99 L334.57,401.00 L335.69,401.01 L336.81,401.01 L337.92,401.02 L339.04,401.02 L340.15,401.03 L341.27,401.03 L342.38,401.04 L343.50,401.05 L344.61,401.05 L345.73,401.06 L346.84,401.06 L347.96,401.07 L349.07,401.07 L350.19,401.08 L351.30,401.08 L352.42,401.09 L353.53,401.09 L354.65,401.09 L355.76,401.10 L356.88,401.10 L357.99,401.11 L359.11,401.11 L360.22,401.12 L361.34,401.12 L362.45,401.12 L363.57,401.13 L364.68,401.13 L365.80,401.14 L366.91,401.14 L368.03,401.14 L369.14,401.15 L370.26,401.15 L371.37,401.15 L372.49,401.16 L373.60,401.16 L374.72,401.16 L375.83,401.16 L376.95,401.17 L378.06,401.17 L379.18,401.17 L380.29,401.18 L381.41,401.18 L382.52,401.18 L383.64,401.18 L384.76,401.19 L385.87,401.19 L386.99,401.19 L388.10,401.19 L389.22,401.19 L390.33,401.20 L391.45,401.20 L392.56,401.20 L393.68,401.20 L394.79,401.20 L395.91,401.20 L397.02,401.21 L398.14,401.21 L399.25,401.21 L400.37,401.21 L401.48,401.21 L402.60,401.21 L403.71,401.21 L404.83,401.21 L405.94,401.21 L407.06,401.21 L408.17,401.21 L409.29,401.22 L410.40,401.22 L411.52,401.22 L412.63,401.22 L413.75,401.22 L414.86,401.22 L415.98,401.22 L417.09,401.22 L418.21,401.22 L419.32,401.22 L420.44,401.22 L421.55,401.22 L422.67,401.22 L423.78,401.21 L424.90,401.21 L426.01,401.21 L427.13,401.21 L428.24,401.21 L429.36,401.21 L430.47,401.21 L431.59,401.21 L432.70,401.21 L433.82,401.21 L434.94,401.21 L436.05,401.20 L437.17,401.20 L438.28,401.20 L439.40,401.20 L440.51,401.20 L441.63,401.20 L442.74,401.19 L443.86,401.19 L444.97,401.19 L446.09,401.19 L447.20,401.19 L448.32,401.18 L449.43,401.18 L450.55,401.18 L451.66,401.18 L452.78,401.17 L453.90,401.17 L455.01,401.17 L456.13,401.17 L457.24,401.16 L458.36,401.16 L459.47,401.16 L460.59,401.15 L461.70,401.15 L462.82,401.15 L463.93,401.15 L465.05,401.14 L466.16,401.14 L467.28,401.14 L468.40,401.13 L469.51,401.13 L470.63,401.12 L471.74,401.12 L472.86,401.12 L473.97,401.11 L475.09,401.11 L476.20,401.10 L477.32,401.10 L478.44,401.10 L479.55,401.09 L480.67,401.09 L481.78,401.08 L482.90,401.08 L484.01,401.07 L485.13,401.07 L486.24,401.06 L487.36,401.06 L488.48,401.06 L489.59,401.05 L490.71,401.05 L491.82,401.04 L492.94,401.03 L494.05,401.03 L495.17,401.02 L496.29,401.02 L497.40,401.01 L498.52,401.01 L499.63,401.00 L500.75,401.00 L501.86,400.99 L502.98,400.99 L504.10,400.98 L505.21,400.97 L506.33,400.97 L507.44,400.96 L508.56,400.96 L509.68,400.95 L510.79,400.94 L511.91,400.94 L513.02,400.93 L514.14,400.92 L515.26,400.92 L516.37,400.91 L517.49,400.90 L518.60,400.90 L519.72,400.89 L520.84,400.88 L521.95,400.88 L523.07,400.87 L524.19,400.86 L525.30,400.85 L526.42,400.85 L527.53,400.84 L528.65,400.83 L529.77,400.82 L530.88,400.82 L532.00,400.81 L533.12,400.80 L534.23,400.79 L535.35,400.79 L536.46,400.78 L537.58,400.77 L538.70,400.76 L539.81,400.75 L540.93,400.75 L542.05,400.74 L543.16,400.73 L544.28,400.72 L545.40,400.71 L546.51,400.70 L547.63,400.70 L548.75,400.69 L549.86,400.68 L550.98,400.67 L552.10,400.66 L553.21,400.65 L554.33,400.64 L555.45,400.63 L556.56,400.62 L557.68,400.62 L558.80,400.61 L559.91,400.60 L561.03,400.59 L562.15,400.58 L563.26,400.57 L564.38,400.56 L565.50,400.55 L566.62,400.54 L567.73,400.53 L568.85,400.52 L569.97,400.51 L571.08,400.50 L572.20,400.49 L573.32,400.48 L574.43,400.47 L575.55,400.46 L576.67,400.45 L577.79,400.44 L578.90,400.43 L580.02,400.42 L581.14,400.41 L582.26,400.40 L583.37,400.39 L584.49,400.38 L585.61,400.37 L586.72,400.35 L587.84,400.34 L588.96,400.33 L590.08,400.32 L591.19,400.31 L592.31,400.30 L593.43,400.29 L594.55,400.28 L595.67,400.27 L596.78,400.25 L597.90,400.24 L599.02,400.23 L600.14,400.22 L601.25,400.21 L602.37,400.20 L603.49,400.18 L604.61,400.17 L605.73,400.16 L606.84,400.15 L607.96,400.14 L609.08,400.12 L610.20,400.11 L611.31,400.10 L612.43,400.09 L613.55,400.08 L614.67,400.06 L615.79,400.05 L616.91,400.04 L618.02,400.03 L619.14,400.01 L620.26,400.00 L621.38,399.99 L622.50,399.97 L623.62,399.96 L624.73,399.95 L625.85,399.93 L626.97,399.92 L628.09,399.90 L629.21,399.89 L630.32,399.87 L631.44,399.85 L632.56,399.83 L633.68,399.80 L634.80,399.78 L635.91,399.75 L637.03,399.72 L638.15,399.68 L639.26,399.65 L640.38,399.61 L641.49,399.56 L642.61,399.52 L643.72,399.47 L644.84,399.41 L645.95,399.35 L647.07,399.29 L648.18,399.22 L649.29,399.14 L650.41,399.07 L651.52,398.98 L652.63,398.89 L653.74,398.80 L654.85,398.69 L655.96,398.59 L657.07,398.47 L658.18,398.35 L659.29,398.23 L660.39,398.09 L661.50,397.95 L662.61,397.80 L663.71,397.64 L664.82,397.48 L665.92,397.31 L667.02,397.13 L668.12,396.94 L669.22,396.74 L670.32,396.53 L671.42,396.32 L672.52,396.09 L673.62,395.86 L674.72,395.62 L675.81,395.36 L676.91,395.10 L678.00,394.82 L679.09,394.54 L680.17,394.23 L681.24,393.91 L682.30,393.58 L683.35,393.22 L684.39,392.84 L685.41,392.43 L686.40,392.00 L687.38,391.55 L688.34,391.06 L689.26,390.54 L690.16,389.99 L691.04,389.41 L691.87,388.78 L692.68,388.12 L693.45,387.42 L694.18,386.68 L694.88,385.90 L695.53,385.08 L696.16,384.23 L696.75,383.34 L697.31,382.42 L697.83,381.47 L698.32,380.49 L698.79,379.49 L699.22,378.46 L699.63,377.41 L700.01,376.34 L700.36,375.26 L700.69,374.15 L700.99,373.03 L701.27,371.90 L701.52,370.75 L701.75,369.60 L701.97,368.44 L702.16,367.28 L702.33,366.11 L702.49,364.94 L702.63,363.77 L702.75,362.59 L702.86,361.42 L702.96,360.25 L703.05,359.08 L703.13,357.92 L703.20,356.76 L703.26,355.60 L703.32,354.45 L703.38,353.30 L703.43,352.17 L703.49,351.04 L703.54,349.92 L703.60,348.81 L703.66,347.71 L703.72,346.63 L703.79,345.55 L703.87,344.50 L703.96,343.45 L704.06,342.42 L704.18,341.41 L704.30,340.41" stroke="#800080" stroke-dasharray="11.8 9.28" stroke-dashoffset="1.2"/>
</g>
<rect x="188.35" y="84.4" width="526.55" height="325.6" fill="none" stroke="#000" stroke-width="1.5"/>
<g stroke="#000" stroke-width="1.2" fill="none">
<path d="M188.35,403.70h3.7 M714.9,403.70h-3.7"/>
<path d="M188.35,392.88h2.6 M714.9,392.88h-2.6"/>
<path d="M188.35,382.05h2.6 M714.9,382.05h-2.6"/>
<path d="M188.35,371.23h2.6 M714.9,371.23h-2.6"/>
<path d="M188.35,360.40h3.7 M714.9,360.40h-3.7"/>
<path d="M188.35,349.57h2.6 M714.9,349.57h-2.6"/>
<path d="M188.35,338.75h2.6 M714.9,338.75h-2.6"/>
<path d="M188.35,327.93h2.6 M714.9,327.93h-2.6"/>
<path d="M188.35,317.10h3.7 M714.9,317.10h-3.7"/>
<path d="M188.35,306.27h2.6 M714.9,306.27h-2.6"/>
<path d="M188.35,295.45h2.6 M714.9,295.45h-2.6"/>
<path d="M188.35,284.62h2.6 M714.9,284.62h-2.6"/>
<path d="M188.35,273.80h3.7 M714.9,273.80h-3.7"/>
<path d="M188.35,262.98h2.6 M714.9,262.98h-2.6"/>
<path d="M188.35,252.15h2.6 M714.9,252.15h-2.6"/>
<path d="M188.35,241.32h2.6 M714.9,241.32h-2.6"/>
<path d="M188.35,230.50h3.7 M714.9,230.50h-3.7"/>
<path d="M188.35,219.68h2.6 M714.9,219.68h-2.6"/>
<path d="M188.35,208.85h2.6 M714.9,208.85h-2.6"/>
<path d="M188.35,198.03h2.6 M714.9,198.03h-2.6"/>
<path d="M188.35,187.20h3.7 M714.9,187.20h-3.7"/>
<path d="M188.35,176.38h2.6 M714.9,176.38h-2.6"/>
<path d="M188.35,165.55h2.6 M714.9,165.55h-2.6"/>
<path d="M188.35,154.72h2.6 M714.9,154.72h-2.6"/>
<path d="M188.35,143.90h3.7 M714.9,143.90h-3.7"/>
<path d="M188.35,133.07h2.6 M714.9,133.07h-2.6"/>
<path d="M188.35,122.25h2.6 M714.9,122.25h-2.6"/>
<path d="M188.35,111.43h2.6 M714.9,111.43h-2.6"/>
<path d="M188.35,100.60h3.7 M714.9,100.60h-3.7"/>
<path d="M188.35,89.78h2.6 M714.9,89.78h-2.6"/>
<path d="M272.1,410.0v-3.7"/>
<path d="M380.0,410.0v-3.7"/>
<path d="M487.9,410.0v-3.7"/>
<path d="M595.8,410.0v-3.7"/>
<path d="M703.7,410.0v-3.7"/>
</g>
<text transform="translate(185.2,359.6) scale(1,1.045)" font-size="18.5" text-anchor="end">14</text><path d="M157.2,354.30h8.8" stroke="#000" stroke-width="1.1"/><text transform="translate(156.2,369.7) scale(1,1.045)" font-size="26" text-anchor="end" letter-spacing="0.9">10</text><path d="M109.4,356.40l12.4,12.4m0,-12.4l-12.4,12.4" stroke="#000" stroke-width="1.3" fill="none"/><text transform="translate(102.9,369.7) scale(1,1.045)" font-size="26" text-anchor="end" letter-spacing="0.5">2.</text>
<text transform="translate(185.2,316.3) scale(1,1.045)" font-size="18.5" text-anchor="end">14</text><path d="M157.2,311.00h8.8" stroke="#000" stroke-width="1.1"/><text transform="translate(156.2,326.4) scale(1,1.045)" font-size="26" text-anchor="end" letter-spacing="0.9">10</text><path d="M109.4,313.10l12.4,12.4m0,-12.4l-12.4,12.4" stroke="#000" stroke-width="1.3" fill="none"/><text transform="translate(102.9,326.4) scale(1,1.045)" font-size="26" text-anchor="end" letter-spacing="0.5">4.</text>
<text transform="translate(185.2,273.0) scale(1,1.045)" font-size="18.5" text-anchor="end">14</text><path d="M157.2,267.70h8.8" stroke="#000" stroke-width="1.1"/><text transform="translate(156.2,283.1) scale(1,1.045)" font-size="26" text-anchor="end" letter-spacing="0.9">10</text><path d="M109.4,269.80l12.4,12.4m0,-12.4l-12.4,12.4" stroke="#000" stroke-width="1.3" fill="none"/><text transform="translate(102.9,283.1) scale(1,1.045)" font-size="26" text-anchor="end" letter-spacing="0.5">6.</text>
<text transform="translate(185.2,229.7) scale(1,1.045)" font-size="18.5" text-anchor="end">14</text><path d="M157.2,224.40h8.8" stroke="#000" stroke-width="1.1"/><text transform="translate(156.2,239.8) scale(1,1.045)" font-size="26" text-anchor="end" letter-spacing="0.9">10</text><path d="M109.4,226.50l12.4,12.4m0,-12.4l-12.4,12.4" stroke="#000" stroke-width="1.3" fill="none"/><text transform="translate(102.9,239.8) scale(1,1.045)" font-size="26" text-anchor="end" letter-spacing="0.5">8.</text>
<text transform="translate(185.2,186.4) scale(1,1.045)" font-size="18.5" text-anchor="end">13</text><path d="M157.2,181.10h8.8" stroke="#000" stroke-width="1.1"/><text transform="translate(156.2,196.5) scale(1,1.045)" font-size="26" text-anchor="end" letter-spacing="0.9">10</text><path d="M109.4,183.20l12.4,12.4m0,-12.4l-12.4,12.4" stroke="#000" stroke-width="1.3" fill="none"/><text transform="translate(102.9,196.5) scale(1,1.045)" font-size="26" text-anchor="end" letter-spacing="0.5">1.</text>
<text transform="translate(185.2,143.1) scale(1,1.045)" font-size="18.5" text-anchor="end">13</text><path d="M157.2,137.80h8.8" stroke="#000" stroke-width="1.1"/><text transform="translate(156.2,153.2) scale(1,1.045)" font-size="26" text-anchor="end" letter-spacing="0.9">10</text><path d="M109.4,139.90l12.4,12.4m0,-12.4l-12.4,12.4" stroke="#000" stroke-width="1.3" fill="none"/><text transform="translate(102.9,153.2) scale(1,1.045)" font-size="26" text-anchor="end" letter-spacing="0.5">1.2</text>
<text transform="translate(185.2,99.8) scale(1,1.045)" font-size="18.5" text-anchor="end">13</text><path d="M157.2,94.50h8.8" stroke="#000" stroke-width="1.1"/><text transform="translate(156.2,109.9) scale(1,1.045)" font-size="26" text-anchor="end" letter-spacing="0.9">10</text><path d="M109.4,96.60l12.4,12.4m0,-12.4l-12.4,12.4" stroke="#000" stroke-width="1.3" fill="none"/><text transform="translate(102.9,109.9) scale(1,1.045)" font-size="26" text-anchor="end" letter-spacing="0.5">1.4</text>
<text transform="translate(184.9,413.0) scale(1,1.045)" font-size="26" text-anchor="end">0</text>
<text transform="translate(272.1,435.8) scale(1,1.045)" font-size="26" text-anchor="middle">0.6</text>
<text transform="translate(380.0,435.8) scale(1,1.045)" font-size="26" text-anchor="middle">0.7</text>
<text transform="translate(487.9,435.8) scale(1,1.045)" font-size="26" text-anchor="middle">0.8</text>
<text transform="translate(595.8,435.8) scale(1,1.045)" font-size="26" text-anchor="middle">0.9</text>
<text transform="translate(703.7,435.8) scale(1,1.045)" font-size="26" text-anchor="middle">1</text>
<text transform="translate(173.2,435.8) scale(1,1.045)" font-size="26" font-style="italic">R</text>
<text transform="translate(190.5,428) scale(1,1.045)" font-size="20">+</text>
<text transform="translate(452,470.6) scale(1,1.045)" font-size="25.5" text-anchor="middle">R</text>
<g transform="translate(58.2,280.3) rotate(-90)"><text transform="scale(1,1.045)" font-size="25">Re</text><text transform="translate(35.2,0) scale(0.84,1.045)" font-size="25" text-anchor="middle">{</text><text transform="translate(48.3,0) scale(0.98,1.045)" font-size="25" text-anchor="middle">Ψ</text><text transform="translate(61.6,0) scale(0.84,1.045)" font-size="25" text-anchor="middle">}</text></g>
<g transform="translate(374,30.5)"><text transform="scale(1,1.045)" font-size="25">Re</text><text transform="translate(35.2,0) scale(0.84,1.045)" font-size="25" text-anchor="middle">{</text><text transform="translate(48.3,0) scale(0.98,1.045)" font-size="25" text-anchor="middle">Ψ</text><text transform="translate(61.6,0) scale(0.84,1.045)" font-size="25" text-anchor="middle">}</text></g>
<text transform="translate(446.5,30.5) scale(1,1.045)" font-size="25" letter-spacing="2.5">at</text>
<text transform="translate(476.2,30.5) scale(1,1.045)" font-size="25" font-style="italic">θ</text>
<path d="M490.6,21H504.1M490.6,27H504.1" stroke="#000" stroke-width="1.3" fill="none"/>
<text transform="translate(517,14) scale(1,1.045)" font-size="25" text-anchor="middle" font-style="italic">π</text>
<path d="M509,20.2H524.8" stroke="#000" stroke-width="1.5"/>
<text transform="translate(517.2,49.5) scale(1.08,1.045)" font-size="25" text-anchor="middle">2</text>
<rect x="234.6" y="105.8" width="231" height="154.1" fill="#fff" stroke="#5a5a5a" stroke-width="0.8" stroke-dasharray="3.7 1.8"/>
<path d="M246.2,123.1H273.6" stroke="#0000ff" stroke-width="1.4" fill="none"/>
<text transform="translate(326.1,129.5) scale(1,1.05)" font-size="18.0" textLength="103.2" lengthAdjust="spacing">T=425.711 M</text>
<path d="M246.2,152.9H273.6" stroke="#00ff00" stroke-width="1.4" fill="none" stroke-dasharray="2.9 0.45"/>
<text transform="translate(326.1,159.3) scale(1,1.05)" font-size="18.0" textLength="103.2" lengthAdjust="spacing">T=474.832 M</text>
<path d="M246.2,182.7H273.6" stroke="#ff8000" stroke-width="1.4" fill="none" stroke-dasharray="5.3 1.9 3.5 1.7 4.8 0.3 4.8 2.1 3.5 9"/>
<text transform="translate(326.1,189.1) scale(1,1.05)" font-size="18.0" textLength="103.2" lengthAdjust="spacing">T=540.326 M</text>
<path d="M246.2,212.5H273.6" stroke="#ff0000" stroke-width="1.4" fill="none" stroke-dasharray="3.7 1.9 5.6 0.3 5.6 1.9 4.2 0.3 4.4 9"/>
<text transform="translate(326.1,218.9) scale(1,1.05)" font-size="18.0" textLength="103.2" lengthAdjust="spacing">T=589.446 M</text>
<path d="M246.2,242.3H273.6" stroke="#800080" stroke-width="1.4" fill="none" stroke-dasharray="5.1 1.85"/>
<text transform="translate(326.1,248.7) scale(1,1.05)" font-size="18.0" textLength="103.2" lengthAdjust="spacing">T=720.434 M</text>
</svg></body></html>
